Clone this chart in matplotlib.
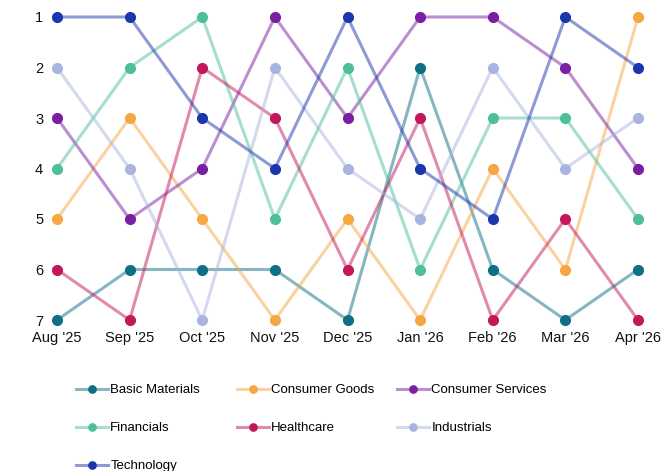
import matplotlib
matplotlib.use("Agg")
import matplotlib.pyplot as plt
from matplotlib.colors import to_rgba

plt.rcParams['font.family'] = ['Liberation Sans', 'DejaVu Sans']

months = ["Aug '25", "Sep '25", "Oct '25", "Nov '25", "Dec '25",
          "Jan '26", "Feb '26", "Mar '26", "Apr '26"]

basic_materials = [7, 6, 6, 6, 7, 2, 6, 7, 6]
consumer_goods = [5, 3, 5, 7, 5, 7, 4, 6, 1]
consumer_services = [3, 5, 4, 1, 3, 1, 1, 2, 4]
financials = [4, 2, 1, 5, 2, 6, 3, 3, 5]
healthcare = [6, 7, 2, 3, 6, 3, 7, 5, 7]
industrials = [2, 4, 7, 2, 4, 5, 2, 4, 3]
technology = [1, 1, 3, 4, 1, 4, 5, 1, 2]

series = [
    ("Basic Materials", basic_materials, "#0f6f85"),
    ("Consumer Goods", consumer_goods, "#f5a742"),
    ("Consumer Services", consumer_services, "#7b1fa2"),
    ("Financials", financials, "#4dbf9d"),
    ("Healthcare", healthcare, "#c2185b"),
    ("Industrials", industrials, "#a9b4e0"),
    ("Technology", technology, "#1c37ad"),
]

fig = plt.figure(figsize=(6.62, 4.71), dpi=100)
ax = fig.add_axes([57 / 662, 1 - 320 / 471, (638 - 57) / 662, (320 - 17) / 471])

x = list(range(len(months)))
lines = {}
for name, vals, col in series:
    ln, = ax.plot(x, vals, color=to_rgba(col, 0.5), lw=2.2, marker='o', ms=7,
                  mfc=col, mec=col, clip_on=False, label=name)
    lines[name] = ln

ax.set_xlim(0, len(months) - 1)
ax.set_ylim(7, 1)
ax.set_xticks(x)
ax.set_xticklabels(months)
ax.set_yticks(range(1, 8))
ax.tick_params(length=0, labelsize=10.5, colors='#111111')
ax.tick_params(axis='x', pad=8)
ax.tick_params(axis='y', pad=10)
for s in ax.spines.values():
    s.set_visible(False)

# legend in row order, one block per column
cols = [["Basic Materials", "Financials", "Technology"],
        ["Consumer Goods", "Healthcare"],
        ["Consumer Services", "Industrials"]]
xs = [76, 237, 397]
for names, xp in zip(cols, xs):
    fig.legend([lines[n] for n in names], names, loc='upper left',
               bbox_to_anchor=(xp / 662, 1 - 384 / 471), frameon=False,
               fontsize=9.5, handlelength=2.4, handletextpad=0.2,
               labelspacing=1.95, borderpad=0, borderaxespad=0,
               markerscale=0.75)

fig.savefig("out.png", dpi=100)
